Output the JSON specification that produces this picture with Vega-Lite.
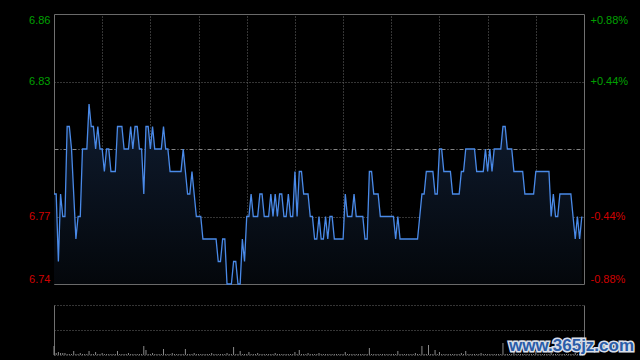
{
"$schema":"https://vega.github.io/schema/vega-lite/v6.json",
"width":530,"height":341,
"autosize":{"type":"none"},
"padding":{"left":54,"top":14,"right":56,"bottom":5},
"background":"#000000",
"config":{"view":{"stroke":null},"axis":{"labelFont":"Liberation Sans","labelFontSize":11}},
"data":{"values":[
{"i":0,"p":6.78,"v":9},{"i":1,"p":6.78,"v":2},{"i":2,"p":6.75,"v":3},{"i":3,"p":6.78,"v":2},{"i":4,"p":6.77,"v":2},{"i":5,"p":6.77,"v":2},{"i":6,"p":6.81,"v":1},{"i":7,"p":6.81,"v":1},{"i":8,"p":6.80,"v":1},{"i":9,"p":6.78,"v":4},
{"i":10,"p":6.76,"v":1},{"i":11,"p":6.77,"v":1},{"i":12,"p":6.77,"v":2},{"i":13,"p":6.80,"v":1},{"i":14,"p":6.80,"v":1},{"i":15,"p":6.80,"v":1},{"i":16,"p":6.82,"v":4},{"i":17,"p":6.81,"v":1},{"i":18,"p":6.81,"v":1},{"i":19,"p":6.80,"v":3},
{"i":20,"p":6.81,"v":1},{"i":21,"p":6.80,"v":1},{"i":22,"p":6.80,"v":2},{"i":23,"p":6.79,"v":1},{"i":24,"p":6.80,"v":1},{"i":25,"p":6.80,"v":1},{"i":26,"p":6.79,"v":1},{"i":27,"p":6.79,"v":1},{"i":28,"p":6.79,"v":1},{"i":29,"p":6.81,"v":4},
{"i":30,"p":6.81,"v":1},{"i":31,"p":6.81,"v":1},{"i":32,"p":6.80,"v":1},{"i":33,"p":6.80,"v":1},{"i":34,"p":6.80,"v":2},{"i":35,"p":6.81,"v":1},{"i":36,"p":6.80,"v":1},{"i":37,"p":6.81,"v":1},{"i":38,"p":6.81,"v":1},{"i":39,"p":6.80,"v":1},
{"i":40,"p":6.80,"v":1},{"i":41,"p":6.78,"v":9},{"i":42,"p":6.81,"v":5},{"i":43,"p":6.81,"v":1},{"i":44,"p":6.80,"v":1},{"i":45,"p":6.81,"v":2},{"i":46,"p":6.80,"v":1},{"i":47,"p":6.80,"v":1},{"i":48,"p":6.80,"v":1},{"i":49,"p":6.80,"v":1},
{"i":50,"p":6.81,"v":6},{"i":51,"p":6.80,"v":1},{"i":52,"p":6.80,"v":1},{"i":53,"p":6.79,"v":1},{"i":54,"p":6.79,"v":2},{"i":55,"p":6.79,"v":1},{"i":56,"p":6.79,"v":1},{"i":57,"p":6.79,"v":1},{"i":58,"p":6.79,"v":1},{"i":59,"p":6.80,"v":1},
{"i":60,"p":6.79,"v":6},{"i":61,"p":6.78,"v":1},{"i":62,"p":6.78,"v":1},{"i":63,"p":6.79,"v":1},{"i":64,"p":6.78,"v":2},{"i":65,"p":6.77,"v":1},{"i":66,"p":6.77,"v":1},{"i":67,"p":6.77,"v":1},{"i":68,"p":6.76,"v":1},{"i":69,"p":6.76,"v":1},
{"i":70,"p":6.76,"v":1},{"i":71,"p":6.76,"v":1},{"i":72,"p":6.76,"v":2},{"i":73,"p":6.76,"v":1},{"i":74,"p":6.76,"v":1},{"i":75,"p":6.75,"v":1},{"i":76,"p":6.75,"v":1},{"i":77,"p":6.76,"v":1},{"i":78,"p":6.76,"v":1},{"i":79,"p":6.74,"v":2},
{"i":80,"p":6.74,"v":1},{"i":81,"p":6.74,"v":1},{"i":82,"p":6.75,"v":8},{"i":83,"p":6.75,"v":1},{"i":84,"p":6.74,"v":1},{"i":85,"p":6.74,"v":4},{"i":86,"p":6.76,"v":1},{"i":87,"p":6.75,"v":1},{"i":88,"p":6.77,"v":1},{"i":89,"p":6.77,"v":3},
{"i":90,"p":6.78,"v":1},{"i":91,"p":6.77,"v":1},{"i":92,"p":6.77,"v":1},{"i":93,"p":6.77,"v":2},{"i":94,"p":6.78,"v":1},{"i":95,"p":6.78,"v":1},{"i":96,"p":6.77,"v":1},{"i":97,"p":6.77,"v":1},{"i":98,"p":6.77,"v":1},{"i":99,"p":6.78,"v":1},
{"i":100,"p":6.77,"v":1},{"i":101,"p":6.78,"v":2},{"i":102,"p":6.77,"v":1},{"i":103,"p":6.78,"v":1},{"i":104,"p":6.78,"v":1},{"i":105,"p":6.77,"v":1},{"i":106,"p":6.77,"v":1},{"i":107,"p":6.78,"v":1},{"i":108,"p":6.77,"v":1},{"i":109,"p":6.77,"v":1},
{"i":110,"p":6.79,"v":3},{"i":111,"p":6.77,"v":1},{"i":112,"p":6.79,"v":5},{"i":113,"p":6.79,"v":1},{"i":114,"p":6.78,"v":1},{"i":115,"p":6.78,"v":1},{"i":116,"p":6.78,"v":2},{"i":117,"p":6.77,"v":1},{"i":118,"p":6.77,"v":1},{"i":119,"p":6.76,"v":1},
{"i":120,"p":6.76,"v":1},{"i":121,"p":6.77,"v":2},{"i":122,"p":6.76,"v":1},{"i":123,"p":6.76,"v":1},{"i":124,"p":6.77,"v":1},{"i":125,"p":6.76,"v":1},{"i":126,"p":6.77,"v":1},{"i":127,"p":6.77,"v":1},{"i":128,"p":6.76,"v":1},{"i":129,"p":6.76,"v":1},
{"i":130,"p":6.76,"v":1},{"i":131,"p":6.76,"v":1},{"i":132,"p":6.76,"v":1},{"i":133,"p":6.78,"v":3},{"i":134,"p":6.77,"v":1},{"i":135,"p":6.77,"v":1},{"i":136,"p":6.77,"v":1},{"i":137,"p":6.78,"v":1},{"i":138,"p":6.77,"v":1},{"i":139,"p":6.77,"v":1},
{"i":140,"p":6.77,"v":1},{"i":141,"p":6.77,"v":1},{"i":142,"p":6.76,"v":1},{"i":143,"p":6.76,"v":1},{"i":144,"p":6.79,"v":7},{"i":145,"p":6.79,"v":1},{"i":146,"p":6.78,"v":1},{"i":147,"p":6.78,"v":1},{"i":148,"p":6.78,"v":1},{"i":149,"p":6.77,"v":1},
{"i":150,"p":6.77,"v":1},{"i":151,"p":6.77,"v":1},{"i":152,"p":6.77,"v":1},{"i":153,"p":6.77,"v":1},{"i":154,"p":6.77,"v":1},{"i":155,"p":6.77,"v":1},{"i":156,"p":6.76,"v":1},{"i":157,"p":6.77,"v":4},{"i":158,"p":6.76,"v":1},{"i":159,"p":6.76,"v":1},
{"i":160,"p":6.76,"v":1},{"i":161,"p":6.76,"v":1},{"i":162,"p":6.76,"v":1},{"i":163,"p":6.76,"v":1},{"i":164,"p":6.76,"v":1},{"i":165,"p":6.76,"v":2},{"i":166,"p":6.76,"v":1},{"i":167,"p":6.77,"v":1},{"i":168,"p":6.78,"v":9},{"i":169,"p":6.78,"v":1},
{"i":170,"p":6.79,"v":1},{"i":171,"p":6.79,"v":10},{"i":172,"p":6.79,"v":1},{"i":173,"p":6.79,"v":1},{"i":174,"p":6.78,"v":5},{"i":175,"p":6.78,"v":1},{"i":176,"p":6.80,"v":3},{"i":177,"p":6.80,"v":1},{"i":178,"p":6.79,"v":1},{"i":179,"p":6.79,"v":1},
{"i":180,"p":6.79,"v":1},{"i":181,"p":6.79,"v":1},{"i":182,"p":6.78,"v":1},{"i":183,"p":6.78,"v":1},{"i":184,"p":6.78,"v":1},{"i":185,"p":6.78,"v":1},{"i":186,"p":6.79,"v":2},{"i":187,"p":6.79,"v":1},{"i":188,"p":6.80,"v":4},{"i":189,"p":6.80,"v":1},
{"i":190,"p":6.80,"v":1},{"i":191,"p":6.80,"v":1},{"i":192,"p":6.80,"v":1},{"i":193,"p":6.79,"v":1},{"i":194,"p":6.79,"v":1},{"i":195,"p":6.79,"v":2},{"i":196,"p":6.79,"v":1},{"i":197,"p":6.80,"v":1},{"i":198,"p":6.79,"v":1},{"i":199,"p":6.80,"v":1},
{"i":200,"p":6.79,"v":1},{"i":201,"p":6.80,"v":1},{"i":202,"p":6.80,"v":1},{"i":203,"p":6.80,"v":1},{"i":204,"p":6.80,"v":1},{"i":205,"p":6.81,"v":12},{"i":206,"p":6.81,"v":1},{"i":207,"p":6.80,"v":1},{"i":208,"p":6.80,"v":1},{"i":209,"p":6.80,"v":1},
{"i":210,"p":6.79,"v":7},{"i":211,"p":6.79,"v":1},{"i":212,"p":6.79,"v":1},{"i":213,"p":6.79,"v":1},{"i":214,"p":6.79,"v":1},{"i":215,"p":6.78,"v":1},{"i":216,"p":6.78,"v":1},{"i":217,"p":6.78,"v":1},{"i":218,"p":6.78,"v":1},{"i":219,"p":6.78,"v":1},
{"i":220,"p":6.79,"v":4},{"i":221,"p":6.79,"v":1},{"i":222,"p":6.79,"v":1},{"i":223,"p":6.79,"v":1},{"i":224,"p":6.79,"v":1},{"i":225,"p":6.79,"v":1},{"i":226,"p":6.79,"v":1},{"i":227,"p":6.77,"v":2},{"i":228,"p":6.78,"v":1},{"i":229,"p":6.77,"v":1},
{"i":230,"p":6.77,"v":1},{"i":231,"p":6.78,"v":1},{"i":232,"p":6.78,"v":1},{"i":233,"p":6.78,"v":1},{"i":234,"p":6.78,"v":1},{"i":235,"p":6.78,"v":1},{"i":236,"p":6.78,"v":1},{"i":237,"p":6.77,"v":1},{"i":238,"p":6.76,"v":2},{"i":239,"p":6.77,"v":1},
{"i":240,"p":6.76,"v":1},{"i":241,"p":6.77,"v":3}
]},
"layer":[
{
"encoding":{"x":{"field":"i","type":"quantitative","scale":{"domain":[0,242],"nice":false,"zero":false},
 "axis":{"orient":"top","values":[22,44,66,88,110,132,154,176,198,220],"grid":true,"gridDash":[1,2],"gridColor":"#6a6a6a","labels":false,"ticks":false,"domain":false,"title":null}}},
"layer":[
{"mark":{"type":"area","fill":{"gradient":"linear","x1":0,"y1":0,"x2":0,"y2":1,"stops":[{"offset":0,"color":"#0f1c30"},{"offset":1,"color":"#04070b"}]}},
 "encoding":{"y":{"field":"p","type":"quantitative","scale":{"domain":[6.74,6.86],"range":[270,0],"nice":false,"zero":false},
   "axis":{"orient":"left","values":[6.74,6.77,6.8,6.83,6.86],"labelExpr":"datum.value == 6.8 ? '' : format(datum.value, '.2f')","labelFlush":true,"labelPadding":4,"ticks":false,"domain":true,"domainColor":"#707070","grid":true,
     "gridColor":{"condition":{"test":"datum.value == 6.8","value":"#858585"},"value":"#6a6a6a"},
     "gridDash":{"condition":[{"test":"datum.value == 6.77 || datum.value == 6.83","value":[1,2]},{"test":"datum.value == 6.8","value":[4,2,1,2]}],"value":[]},
     "labelColor":{"condition":{"test":"datum.value > 6.8","value":"#00a000"},"value":"#d00000"},"title":null}},
  "y2":{"datum":6.74}}},
{"mark":{"type":"line","color":"#4a8ae8","strokeWidth":1.3},
 "encoding":{"y":{"field":"p","type":"quantitative","scale":{"domain":[6.74,6.86],"range":[270,0],"nice":false,"zero":false},
   "axis":{"orient":"right","values":[6.74,6.77,6.83,6.86],"labelExpr":"(datum.value > 6.8 ? '+' : '-') + format(abs(datum.value - 6.8) / 6.8 * 100, '.2f') + '%'","labelFlush":true,"labelPadding":6,"ticks":false,"domain":true,"domainColor":"#707070","grid":false,
     "labelColor":{"condition":{"test":"datum.value > 6.8","value":"#00a000"},"value":"#d00000"},"title":null}}}},
{"data":{"values":[{"t":"sina.com"}]},
 "mark":{"type":"text","color":"#aaaaaa","font":"Liberation Sans","fontSize":11,"baseline":"middle","align":"center"},
 "encoding":{"x":{"datum":227.6},"y":{"datum":6.7422,"axis":null},"text":{"field":"t"}}}
],
"resolve":{"axis":{"y":"independent"}}
},
{
"layer":[
{"mark":{"type":"rule","color":"#8a8a8a","strokeWidth":1},
 "encoding":{"x":{"field":"i","type":"quantitative","axis":null},
  "y":{"field":"v","type":"quantitative","scale":{"domain":[0,50],"range":[341,291],"nice":false,"zero":false},
   "axis":{"orient":"left","values":[0,25,50],"grid":true,"gridDash":[1,2],"gridColor":"#6a6a6a","labels":false,"ticks":false,"domain":true,"domainColor":"#707070","title":null}},
  "y2":{"datum":0}}},
{"data":{"values":[{"t":"www.365jz.com"}]},
 "mark":{"type":"text","color":"#d8dee8","stroke":"#d8dee8","strokeWidth":3,"font":"Liberation Sans","fontWeight":"bold","fontSize":17,"baseline":"middle","align":"center"},
 "encoding":{"x":{"datum":236.3,"axis":null},"y":{"datum":9,"scale":{"domain":[0,50],"range":[341,291],"nice":false,"zero":false},
   "axis":{"orient":"right","labels":false,"ticks":false,"grid":false,"domain":true,"domainColor":"#707070","title":null}},"text":{"field":"t"}}},
{"data":{"values":[{"t":"www.365jz.com"}]},
 "mark":{"type":"text","color":"#2a5ca8","font":"Liberation Sans","fontWeight":"bold","fontSize":17,"baseline":"middle","align":"center"},
 "encoding":{"x":{"datum":236.3,"axis":null},"y":{"datum":9,"axis":null},"text":{"field":"t"}}}
],
"resolve":{"axis":{"y":"independent"}}
}
],
"resolve":{"scale":{"y":"independent"},"axis":{"x":"independent","y":"independent"}}
}
